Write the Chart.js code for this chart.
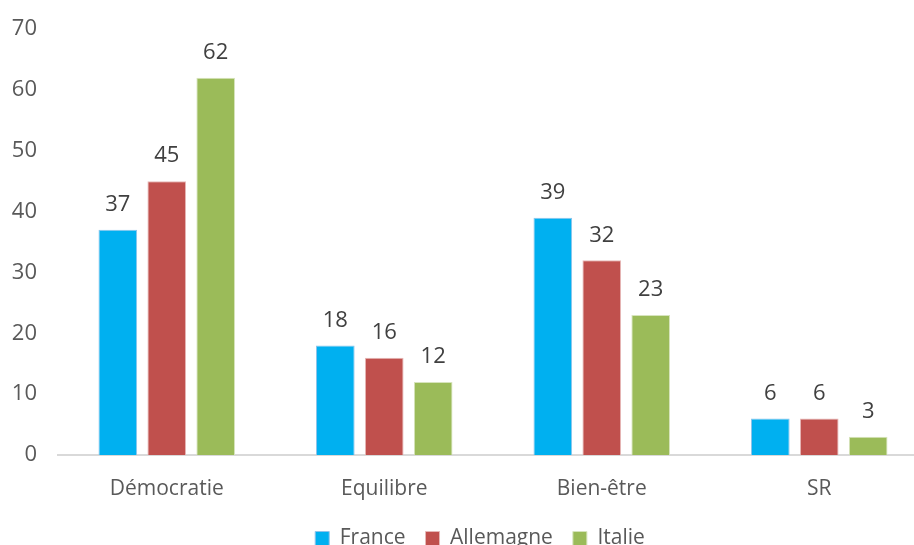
<!DOCTYPE html>
<html>
<head>
<meta charset="utf-8">
<script src="https://cdn.jsdelivr.net/npm/chart.js@4.4.0/dist/chart.umd.min.js"></script>
<style>
  html, body { margin: 0; padding: 0; background: #fff; overflow: hidden; }
  #wrap { width: 914px; height: 545px; overflow: hidden; position: relative; }
  canvas { position: absolute; left: 0; top: 0; }
</style>
</head>
<body>
<div id="wrap"><canvas id="myChart" width="928" height="559"></canvas></div>
<script>
// categories and values
const categories = ["Démocratie", "Equilibre", "Bien-être", "SR"];
const france = [37, 18, 39, 6];
const allemagne = [45, 16, 32, 6];
const italie = [62, 12, 23, 3];
const yTicks = [0, 10, 20, 30, 40, 50, 60, 70];

const FONT = "'Open Sans', sans-serif";

// draw the value above each bar
const barLabels = {
  id: "barLabels",
  afterDatasetsDraw(chart) {
    const ctx = chart.ctx;
    ctx.save();
    ctx.font = "22px " + FONT;
    ctx.fillStyle = "#404040";
    ctx.textAlign = "center";
    ctx.textBaseline = "middle";
    chart.data.datasets.forEach((ds, i) => {
      chart.getDatasetMeta(i).data.forEach((bar, j) => {
        ctx.fillText(ds.data[j], bar.x, bar.y - 25);
      });
    });
    ctx.restore();
  },
};

// legend sits a bit right of centre in the original
const legendShift = {
  id: "legendShift",
  afterLayout(chart) {
    chart.legend.left += 16;
    chart.legend.right += 16;
  },
};

var ctx = document.getElementById("myChart").getContext("2d");
var chart = new Chart(ctx, {
  type: "bar",
  data: {
    labels: categories,
    datasets: [
      {
        label: "France",
        backgroundColor: "#00B0F0",
        borderColor: "#8FC3EA",
        borderWidth: 1,
        data: france,
      },
      {
        label: "Allemagne",
        backgroundColor: "#C0504D",
        borderColor: "#E6B8B7",
        borderWidth: 1,
        data: allemagne,
      },
      {
        label: "Italie",
        backgroundColor: "#9BBB59",
        borderColor: "#D7E4BD",
        borderWidth: 1,
        data: italie,
      },
    ],
  },
  options: {
    responsive: false,
    animation: false,
    barPercentage: 0.79,
    categoryPercentage: 0.675,
    layout: { padding: { top: 29, left: 0, right: 0, bottom: 0 } },
    plugins: {
      legend: {
        position: "bottom",
        labels: {
          boxWidth: 14,
          boxHeight: 14,
          color: "#595959",
          font: { family: FONT, size: 21 },
          padding: 20,
        },
      },
      tooltip: { enabled: false },
    },
    scales: {
      x: {
        grid: { display: false },
        border: { display: true, color: "#D9D9D9", width: 2 },
        ticks: {
          color: "#595959",
          font: { family: FONT, size: 21 },
          padding: 13,
        },
        afterFit: (scale) => { scale.height = 53; },
      },
      y: {
        min: 0,
        max: 70,
        afterBuildTicks: (scale) => {
          scale.ticks = yTicks.map((v) => ({ value: v }));
        },
        grid: { display: false },
        border: { display: false },
        ticks: {
          color: "#595959",
          font: { family: FONT, size: 22 },
          padding: 13,
        },
        afterFit: (scale) => { scale.width = 58; },
      },
    },
  },
  plugins: [barLabels, legendShift],
});
</script>
</body>
</html>
